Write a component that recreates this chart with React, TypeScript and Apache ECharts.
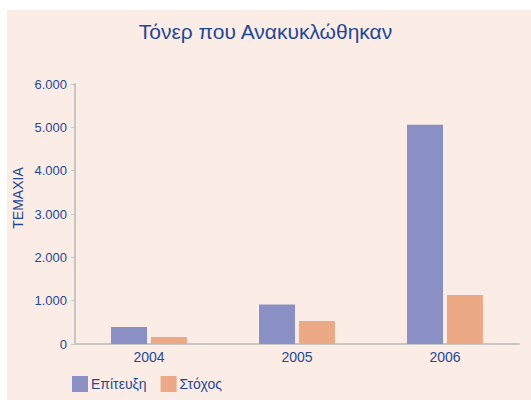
import React, { useEffect, useRef } from "react";
import * as echarts from "echarts";

const categories = ["2004", "2005", "2006"];
const achieved = [390, 910, 5060];
const target = [160, 530, 1130];
const seriesNames = ["Επίτευξη", "Στόχος"];
const titleText = "Τόνερ που Ανακυκλώθηκαν";
const yAxisName = "ΤΕΜΑΧΙΑ";

const FONT = "'Liberation Sans Narrow', 'Arial Narrow', 'Liberation Sans', sans-serif";
const TEXT = "#1f4896";

export default function App() {
  const ref = useRef<HTMLDivElement>(null);
  useEffect(() => {
    document.body.style.margin = "0";
    const chart = echarts.init(ref.current!, null, { renderer: "svg" });
    chart.setOption({
      animation: false,
      backgroundColor: "#ffffff",
      textStyle: { fontFamily: FONT },
      graphic: [
        {
          type: "rect",
          z: -10,
          silent: true,
          shape: { x: 7, y: 10, width: 524, height: 390 },
          style: { fill: "#fbede5" },
        },
        {
          type: "text",
          x: 18,
          y: 198,
          rotation: Math.PI / 2,
          style: {
            text: yAxisName,
            fill: TEXT,
            font: `14px ${FONT}`,
            align: "center",
            verticalAlign: "middle",
          },
        },
      ],
      title: {
        text: titleText,
        left: "center",
        top: 16,
        textStyle: { color: TEXT, fontSize: 21, fontWeight: "normal", fontFamily: FONT },
      },
      legend: {
        left: 67,
        top: 371,
        itemWidth: 16,
        itemHeight: 16,
        itemGap: 14,
        icon: "rect",
        textStyle: { color: TEXT, fontSize: 14, fontFamily: FONT, padding: [0, 0, 0, -2] },
        data: seriesNames,
      },
      grid: { left: 75, right: 12, top: 84, bottom: 56, containLabel: false },
      xAxis: {
        type: "category",
        data: categories,
        axisLine: { lineStyle: { color: "#c6c6c6", width: 2 } },
        axisTick: { inside: true, length: 3, lineStyle: { color: "#c6c6c6", width: 2 } },
        axisLabel: { color: TEXT, fontSize: 14, margin: 6, fontFamily: FONT },
      },
      yAxis: {
        type: "value",
        min: 0,
        max: 6000,
        interval: 1000,
        splitLine: { show: false },
        axisLine: { show: true, lineStyle: { color: "#c6c6c6", width: 2 } },
        axisTick: { show: true, length: 4, lineStyle: { color: "#c6c6c6", width: 1 } },
        axisLabel: {
          color: TEXT,
          fontSize: 13,
          margin: 8,
          fontFamily: FONT,
          formatter: (v: number) => (v === 0 ? "0" : v.toLocaleString("de-DE")),
        },
      },
      series: [
        {
          name: seriesNames[0],
          type: "bar",
          data: achieved,
          barWidth: 36,
          barGap: "11%",
          itemStyle: { color: "#8a90c3" },
        },
        {
          name: seriesNames[1],
          type: "bar",
          data: target,
          barWidth: 36,
          itemStyle: { color: "#eba985" },
        },
      ],
    });
    return () => chart.dispose();
  }, []);
  return <div ref={ref} style={{ width: 531, height: 400 }} />;
}
